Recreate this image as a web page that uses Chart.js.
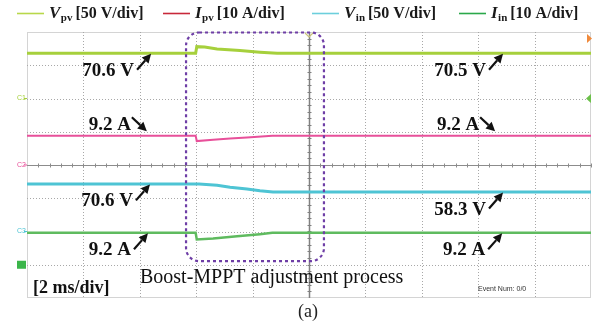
<!DOCTYPE html>
<html>
<head>
<meta charset="utf-8">
<script src="https://cdn.jsdelivr.net/npm/chart.js@4.4.1/dist/chart.umd.min.js"></script>
<style>
  html, body { margin: 0; padding: 0; background: #fff; }
  #wrap { width: 596px; height: 329px; }
</style>
</head>
<body>
<div id="wrap"><canvas id="scope" width="596" height="329"></canvas></div>
<script>
// time base: 10 divisions at 2 ms/div, 8 vertical divisions
const timeTicks = [0, 2, 4, 6, 8, 10, 12, 14, 16, 18, 20];
const divTicks = [-4, -3, -2, -1, 0, 1, 2, 3, 4];

// scope traces (ms, V / A)
const vpvTime = [0, 5.98, 6.02, 6.3, 6.74, 7.55, 8.26, 8.87, 20];
const vpvVolts = [70.6, 70.6, 80.5, 79.8, 77.1, 74.5, 72.1, 70.6, 70.5];
const ipvTime = [0, 5.98, 6.02, 6.6, 7.2, 7.8, 8.7, 20];
const ipvAmps = [9.2, 9.2, 7.6, 8.0, 8.4, 8.7, 9.2, 9.2];
const vinTime = [0, 6.1, 6.74, 7.2, 7.8, 8.26, 8.72, 20];
const vinVolts = [70.6, 70.6, 68.7, 65.5, 63.0, 60.2, 58.3, 58.3];
const iinTime = [0, 5.98, 6.02, 6.6, 7.45, 8.26, 8.7, 20];
const iinAmps = [9.2, 9.2, 7.2, 7.5, 8.2, 8.8, 9.2, 9.2];

// channel settings
const chSymbol = ['V', 'I', 'V', 'I'];
const chSub = ['pv', 'pv', 'in', 'in'];
const chUnit = ['V', 'A', 'V', 'A'];
const chPerDiv = [50, 10, 50, 10];
const chOffsetDiv = [1.95, -0.04, -1.98, -2.96];
const chMarkerDiv = [2, 0, -2, -3];
const chTraceColor = ['#a6d03c', '#e8509a', '#4ec4d4', '#5fbb5f'];
const chLegendColor = ['#b8d84a', '#c8283a', '#6ccfdc', '#2ba84a'];
const chTraceWidth = [3, 2, 3, 2.5];

// Boost-MPPT adjustment window (ms)
const adjustWindow = [5.64, 10.53];

// value callouts: channel, time of arrow tip (ms), label
const callouts = [
  { ch: 0, t: 4.4, text: '70.6 V', side: 'up' },
  { ch: 1, t: 4.25, text: '9.2 A', side: 'down' },
  { ch: 0, t: 16.88, text: '70.5 V', side: 'up' },
  { ch: 1, t: 16.6, text: '9.2 A', side: 'down' },
  { ch: 2, t: 4.36, text: '70.6 V', side: 'up' },
  { ch: 3, t: 4.29, text: '9.2 A', side: 'up' },
  { ch: 2, t: 16.88, text: '58.3 V', side: 'up' },
  { ch: 3, t: 16.85, text: '9.2 A', side: 'up' }
];

const traces = [
  [vpvTime, vpvVolts],
  [ipvTime, ipvAmps],
  [vinTime, vinVolts],
  [iinTime, iinAmps]
];

function toDiv(ch, v) {
  return chOffsetDiv[ch] + v / chPerDiv[ch];
}

function valueAt(ch, t) {
  const [ts, vs] = traces[ch];
  for (let i = 1; i < ts.length; i++) {
    if (t <= ts[i]) {
      const f = (t - ts[i - 1]) / (ts[i] - ts[i - 1]);
      return vs[i - 1] + f * (vs[i] - vs[i - 1]);
    }
  }
  return vs[vs.length - 1];
}

const SERIF = '"Liberation Serif", "Times New Roman", serif';
const SANS = '"Liberation Sans", Arial, sans-serif';

const datasets = traces.map(([ts, vs], ch) => ({
  label: chSymbol[ch] + chSub[ch],
  data: ts.map((t, i) => ({ x: t, y: toDiv(ch, vs[i]) })),
  borderColor: chTraceColor[ch],
  borderWidth: chTraceWidth[ch],
  pointRadius: 0,
  tension: 0,
  fill: false
}));

// dotted graticule with a solid centre cross
const graticule = {
  id: 'graticule',
  beforeDatasetsDraw(chart) {
    const { ctx, chartArea: ca, scales: { x, y } } = chart;
    ctx.save();
    ctx.lineWidth = 1;
    ctx.strokeStyle = '#d4d4d4';
    ctx.strokeRect(ca.left + 0.5, ca.top + 0.5, ca.width - 1, ca.height - 1);

    ctx.setLineDash([1, 2]);
    ctx.strokeStyle = '#a8a8a8';
    timeTicks.forEach(t => {
      if (t === 0 || t === 20 || t === 10) return;
      const px = Math.round(x.getPixelForValue(t)) + 0.5;
      ctx.beginPath(); ctx.moveTo(px, ca.top); ctx.lineTo(px, ca.bottom); ctx.stroke();
    });
    divTicks.forEach(d => {
      if (Math.abs(d) === 4 || d === 0) return;
      const py = Math.round(y.getPixelForValue(d)) + 0.5;
      ctx.beginPath(); ctx.moveTo(ca.left, py); ctx.lineTo(ca.right, py); ctx.stroke();
    });
    ctx.setLineDash([]);

    // centre horizontal with minor ticks
    const cy = Math.round(y.getPixelForValue(0)) + 0.5;
    ctx.strokeStyle = '#8c8c8c';
    ctx.beginPath(); ctx.moveTo(ca.left, cy); ctx.lineTo(ca.right, cy); ctx.stroke();
    for (let t = 0.4; t < 20; t += 0.4) {
      const px = Math.round(x.getPixelForValue(t)) + 0.5;
      ctx.beginPath(); ctx.moveTo(px, cy - 2); ctx.lineTo(px, cy + 2); ctx.stroke();
    }
    // centre vertical with minor ticks
    const cx = Math.round(x.getPixelForValue(10)) + 0.5;
    ctx.strokeStyle = '#808080';
    ctx.lineWidth = 1.5;
    ctx.beginPath(); ctx.moveTo(cx, ca.top); ctx.lineTo(cx, ca.bottom); ctx.stroke();
    ctx.lineWidth = 1;
    for (let d = -3.8; d < 4; d += 0.2) {
      const py = Math.round(y.getPixelForValue(d)) + 0.5;
      ctx.beginPath(); ctx.moveTo(cx - 2, py); ctx.lineTo(cx + 2, py); ctx.stroke();
    }
    ctx.restore();
  }
};

function arrow(ctx, x0, y0, x1, y1) {
  const a = Math.atan2(y1 - y0, x1 - x0);
  const head = 9, half = 4.5;
  const bx = x1 - head * Math.cos(a), by = y1 - head * Math.sin(a);
  ctx.lineWidth = 2.2;
  ctx.beginPath(); ctx.moveTo(x0, y0); ctx.lineTo(bx, by); ctx.stroke();
  ctx.beginPath();
  ctx.moveTo(x1, y1);
  ctx.lineTo(bx + half * Math.sin(a), by - half * Math.cos(a));
  ctx.lineTo(bx - half * Math.sin(a), by + half * Math.cos(a));
  ctx.closePath();
  ctx.fill();
}

// markers, adjustment box, callouts and captions
const overlay = {
  id: 'overlay',
  afterDatasetsDraw(chart) {
    const { ctx, chartArea: ca, scales: { x, y } } = chart;
    ctx.save();

    // channel ground markers on the left edge
    ctx.font = '7px ' + SANS;
    ctx.textBaseline = 'middle';
    chMarkerDiv.forEach((d, ch) => {
      const py = y.getPixelForValue(d);
      ctx.fillStyle = chTraceColor[ch];
      ctx.strokeStyle = chTraceColor[ch];
      if (ch === 3) {
        ctx.fillStyle = '#3bb54a';
        ctx.fillRect(17, py - 4, 9, 8);
      } else {
        ctx.fillText('C' + (ch + 1), 17, py);
        ctx.beginPath(); ctx.moveTo(24, py); ctx.lineTo(ca.left, py); ctx.lineWidth = 1; ctx.stroke();
      }
    });

    // right edge markers and trigger mark
    ctx.fillStyle = '#f08a3c';
    ctx.beginPath(); ctx.moveTo(587, 34); ctx.lineTo(592, 38.5); ctx.lineTo(587, 43); ctx.closePath(); ctx.fill();
    const ty = y.getPixelForValue(2);
    ctx.fillStyle = '#6cc04a';
    ctx.beginPath(); ctx.moveTo(591, ty - 4.5); ctx.lineTo(586, ty); ctx.lineTo(591, ty + 4.5); ctx.closePath(); ctx.fill();
    const tx = x.getPixelForValue(10);
    ctx.strokeStyle = '#c9c27a';
    ctx.lineWidth = 1.2;
    ctx.beginPath(); ctx.moveTo(tx - 4, ca.top + 1); ctx.lineTo(tx, ca.top + 5); ctx.lineTo(tx + 4, ca.top + 1); ctx.stroke();

    // adjustment window
    const bx0 = x.getPixelForValue(adjustWindow[0]);
    const bx1 = x.getPixelForValue(adjustWindow[1]);
    const by0 = y.getPixelForValue(4) + 0.5;
    const by1 = y.getPixelForValue(-2.89);
    ctx.strokeStyle = '#6e3ea6';
    ctx.lineWidth = 2.2;
    ctx.setLineDash([3, 3]);
    ctx.beginPath();
    ctx.roundRect(bx0, by0, bx1 - bx0, by1 - by0, 13);
    ctx.stroke();
    ctx.setLineDash([]);

    // callouts
    ctx.fillStyle = '#111';
    ctx.strokeStyle = '#111';
    ctx.font = 'bold 19px ' + SERIF;
    ctx.textBaseline = 'alphabetic';
    ctx.textAlign = 'left';
    callouts.forEach(c => {
      const px = x.getPixelForValue(c.t);
      const py = y.getPixelForValue(toDiv(c.ch, valueAt(c.ch, c.t)));
      const w = ctx.measureText(c.text).width;
      if (c.side === 'up') {
        const tipY = py + 0.5;
        arrow(ctx, px - 14, tipY + 16, px, tipY);
        ctx.fillText(c.text, px - 17 - w, tipY + 22);
      } else {
        const tipY = py - 4.5;
        arrow(ctx, px - 15, tipY - 14, px, tipY);
        ctx.fillText(c.text, px - 16 - w, tipY - 1);
      }
    });

    // captions
    ctx.font = 'bold 18px ' + SERIF;
    ctx.fillText('[2 ms/div]', 33, 293);
    ctx.font = '20px ' + SERIF;
    ctx.fillText('Boost-MPPT adjustment process', 140, 283);
    ctx.font = '7px ' + SANS;
    ctx.fillStyle = '#333';
    ctx.fillText('Event Num: 0/0', 478, 291);
    ctx.fillStyle = '#222';
    ctx.font = '18px ' + SERIF;
    ctx.textAlign = 'center';
    ctx.fillText('(a)', 308, 317);
    ctx.restore();
  }
};

// legend row with subscripted symbols
const legendRow = {
  id: 'legendRow',
  afterDraw(chart) {
    const { ctx } = chart;
    const starts = [17, 163, 312, 459];
    ctx.save();
    ctx.textBaseline = 'alphabetic';
    ctx.textAlign = 'left';
    starts.forEach((sx, ch) => {
      ctx.strokeStyle = chLegendColor[ch];
      ctx.lineWidth = 1.6;
      ctx.beginPath(); ctx.moveTo(sx, 13.5); ctx.lineTo(sx + 27, 13.5); ctx.stroke();
      let cx = sx + 32;
      ctx.fillStyle = '#1a1a1a';
      ctx.font = 'italic bold 17px ' + SERIF;
      ctx.fillText(chSymbol[ch], cx, 18);
      cx += ctx.measureText(chSymbol[ch]).width + 0.5;
      ctx.font = 'bold 11px ' + SERIF;
      ctx.fillText(chSub[ch], cx, 21);
      cx += ctx.measureText(chSub[ch]).width + 3;
      ctx.font = 'bold 16px ' + SERIF;
      ctx.fillText('[' + chPerDiv[ch] + ' ' + chUnit[ch] + '/div]', cx, 18);
    });
    ctx.restore();
  }
};

new Chart(document.getElementById('scope'), {
  type: 'line',
  data: { datasets },
  options: {
    responsive: false,
    animation: false,
    layout: { padding: { left: 27, top: 32, right: 5, bottom: 31 } },
    plugins: { legend: { display: false }, tooltip: { enabled: false } },
    scales: {
      x: { type: 'linear', min: 0, max: 20, display: false },
      y: { type: 'linear', min: -4, max: 4, display: false }
    }
  },
  plugins: [graticule, overlay, legendRow]
});
</script>
</body>
</html>
